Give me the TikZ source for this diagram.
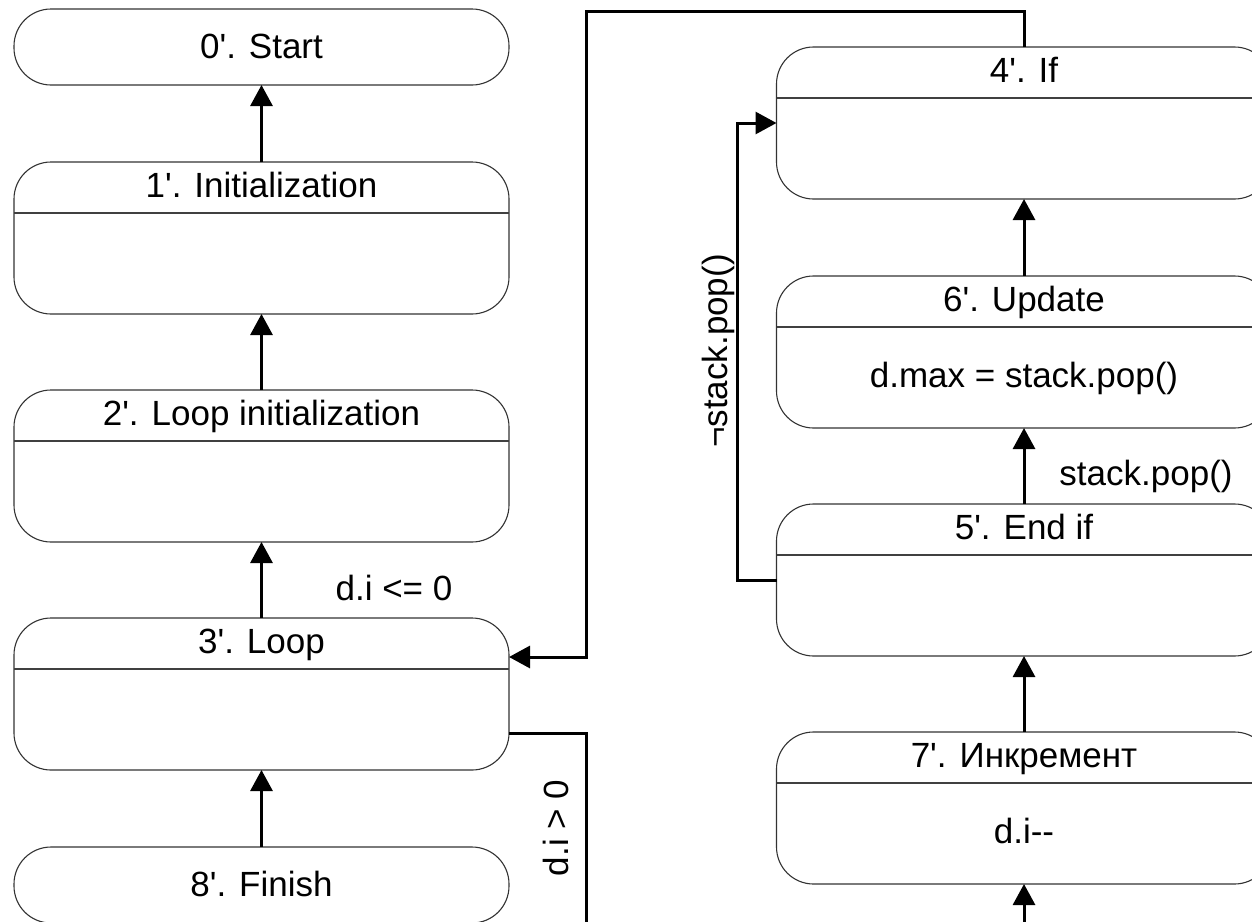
\documentclass[tikz,border=0pt]{standalone}
\usepackage{fontspec}
\setmainfont{Liberation Sans}[Ligatures=TeXOff]
\usetikzlibrary{arrows.meta}
\begin{document}
\begin{tikzpicture}[x=1pt,y=-1pt,
  statebox/.style={draw=black!80, line width=1.1pt, rounded corners=37pt,
    minimum width=495pt, inner sep=0pt, outer sep=0pt},
  tall/.style={statebox, minimum height=152pt},
  short/.style={statebox, minimum height=76pt},
  conn/.style={line width=3pt, -{Triangle[length=21pt,width=22pt]}},
  plainline/.style={line width=3pt},
  divline/.style={draw=black!75, line width=1.1pt},
  txt/.style={font=\fontsize{35}{42}\selectfont, anchor=base, inner sep=0pt}
]
\useasboundingbox (0,0) rectangle (1252,921);
\clip (0,0) rectangle (1252,921);

% left column
\node[short] (s0) at (261.5,47) {};
\node[tall]  (s1) at (261.5,238) {};
\node[tall]  (s2) at (261.5,466) {};
\node[tall]  (s3) at (261.5,694) {};
\node[short] (s8) at (261.5,885) {};
% right column
\node[tall] (s4) at (1024,123) {};
\node[tall] (s6) at (1024,352) {};
\node[tall] (s5) at (1024,580) {};
\node[tall] (s7) at (1024,808) {};

% dividers
\foreach \b in {s1,s2,s3,s4,s6,s5,s7}
  \draw[divline] ([yshift=-51pt]\b.north west) -- ([yshift=-51pt]\b.north east);

% texts
\node[txt] (s0t) at (261.5,58)  {0'. Start};
\node[txt] (s1t) at (261.5,197) {1'. Initialization};
\node[txt] (s2t) at (261.5,425) {2'. Loop initialization};
\node[txt] (s3t) at (261.5,653) {3'. Loop};
\node[txt] (s8t) at (261.5,896) {8'. Finish};
\node[txt] (s4t) at (1024,82)  {4'. If};
\node[txt] (s6t) at (1024,311) {6'. Update};
\node[txt] (s6b) at (1024,387) {d.max = stack.pop()};
\node[txt] (s5t) at (1024,539) {5'. End if};
\node[txt] (s7t) at (1024,767) {7'. Инкремент};
\node[txt] (s7b) at (1024,843) {d.i--};

% vertical connectors
\draw[conn] (s1.north) -- (s0.south);
\draw[conn] (s2.north) -- (s1.south);
\draw[conn] (s3.north) -- (s2.south);
\draw[conn] (s8.north) -- (s3.south);
\draw[conn] (s6.north) -- (s4.south);
\draw[conn] (s5.north) -- (s6.south);
\draw[conn] (s7.north) -- (s5.south);
\coordinate (b7) at (1024,940);
\draw[conn] (b7) -- (s7.south);

% 4' -> 3'
\coordinate (k1) at (586,11);
\coordinate (k2) at (586,657);
\draw[conn] (s4.north) |- (k1) -- (k2) -- (s3.east |- k2);

% 3' -> down (d.i > 0)
\coordinate (k3) at (586,733);
\coordinate (k4) at (586,940);
\draw[plainline] (s3.east |- k3) -- (k3) -- (k4);

% 5' -> 4'
\coordinate (k5) at (737,580);
\coordinate (k6) at (737,123);
\draw[conn] (s5.west) -- (k5) -- (k6) -- (s4.west);

% labels
\node[txt] (l1) at (394,600) {d.i <= 0};
\node[txt] (l2) at (1146,485) {stack.pop()};
\node[txt, rotate=90] (l3) at (568,828) {d.i > 0};
\node[txt, rotate=90] (l4) at (727,351) {¬stack.pop()};
\end{tikzpicture}
\end{document}
